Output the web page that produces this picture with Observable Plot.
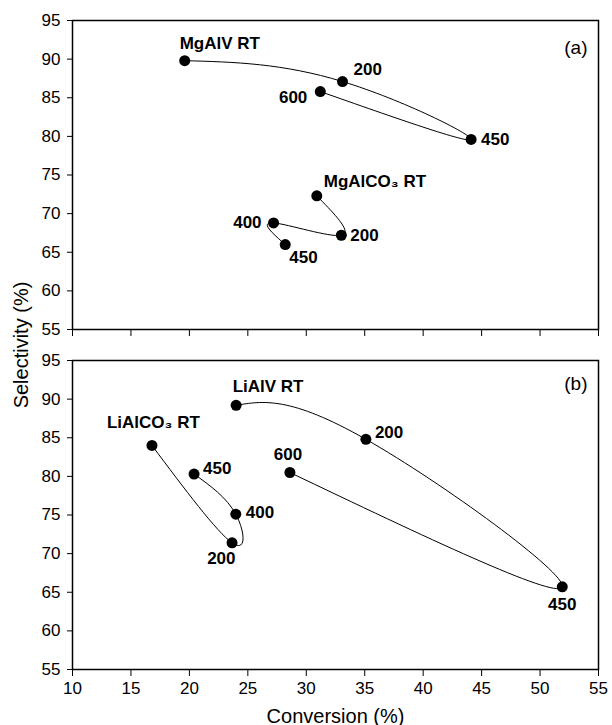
<!DOCTYPE html>
<html>
<head>
<meta charset="utf-8">
<script src="https://cdn.jsdelivr.net/npm/d3@7"></script>
<script src="https://cdn.jsdelivr.net/npm/@observablehq/plot@0.6"></script>
<style>
  html, body { margin: 0; padding: 0; background: white; }
  #wrap { position: relative; width: 612px; height: 725px; font-family: "Liberation Sans", Arial, sans-serif; }
  #wrap svg { position: absolute; left: 0; }
  #ylab { position: absolute; left: 21px; top: 345px; transform: translate(-50%, -50%) rotate(-90deg); font-size: 20px; white-space: nowrap; color: black; }
  g[aria-label="x-axis label"] text { font-size: 20px; }
</style>
</head>
<body>
<div id="wrap"><div id="ylab">Selectivity (%)</div></div>
<script>
// ---- data ----
const xTicks = [10, 15, 20, 25, 30, 35, 40, 45, 50, 55];
const yTicks = [55, 60, 65, 70, 75, 80, 85, 90, 95];

// panel (a)
const mgalvX = [19.6, 33.1, 44.1, 31.2];
const mgalvY = [89.8, 87.1, 79.6, 85.8];
const mgalvLabels = ["MgAlV RT", "200", "450", "600"];

const mgalco3X = [30.9, 33.0, 27.2, 28.2];
const mgalco3Y = [72.3, 67.2, 68.8, 66.0];
const mgalco3Labels = ["MgAlCO₃ RT", "200", "400", "450"];

// panel (b)
const lialvX = [24.0, 35.1, 51.9, 28.6];
const lialvY = [89.2, 84.8, 65.7, 80.5];
const lialvLabels = ["LiAlV RT", "200", "450", "600"];

const lialco3X = [16.8, 23.65, 23.97, 20.4];
const lialco3Y = [84.0, 71.4, 75.1, 80.3];
const lialco3Labels = ["LiAlCO₃ RT", "200", "400", "450"];

const panelTags = ["(a)", "(b)"];

// ---- label placement (pixel offsets, anchor) ----
const offsets = {
  mgalv:   [[-5, -17, "start"], [11, -12, "start"], [10, 0, "start"], [-13, 6, "end"]],
  mgalco3: [[7, -14, "start"], [9, 0, "start"], [-12, 0, "end"], [4, 13.5, "start"]],
  lialv:   [[-3.5, -19, "start"], [9, -6.5, "start"], [0, 17.5, "middle"], [-2, -18, "middle"]],
  lialco3: [[-45, -23, "start"], [-10.7, 16, "middle"], [10, -2, "start"], [9, -6, "start"]]
};

function series(xs, ys, labels) {
  return xs.map((x, i) => ({x, y: ys[i], label: labels[i]}));
}

function seriesMarks(data, offs) {
  const marks = [
    Plot.line(data, {x: "x", y: "y", curve: "natural", stroke: "black", strokeWidth: 1}),
    Plot.dot(data, {x: "x", y: "y", r: 5.5, fill: "black", stroke: "none"})
  ];
  data.forEach((d, i) => {
    const [dx, dy, anchor] = offs[i];
    marks.push(Plot.text([d], {x: "x", y: "y", text: "label", dx, dy, textAnchor: anchor,
      fontSize: 17, fontWeight: "bold", fill: "black"}));
  });
  return marks;
}

const common = {
  width: 612,
  marginLeft: 72,
  marginRight: 14,
  style: {fontFamily: "'Liberation Sans', Arial, sans-serif", fontSize: "17px", background: "transparent", color: "black"},
  x: {domain: [10, 55]},
  y: {domain: [55, 95]}
};

const plotA = Plot.plot({
  ...common,
  height: 345,
  marginTop: 20,
  marginBottom: 16,
  marks: [
    Plot.axisY({ticks: yTicks, tickSize: 5, tickPadding: 7, label: null}),
    Plot.axisX({ticks: xTicks, tickSize: 7, tickFormat: () => "", label: null}),
    ...seriesMarks(series(mgalvX, mgalvY, mgalvLabels), offsets.mgalv),
    ...seriesMarks(series(mgalco3X, mgalco3Y, mgalco3Labels), offsets.mgalco3),
    Plot.text([panelTags[0]], {frameAnchor: "top-right", dx: -11, dy: 27, textAnchor: "end", lineAnchor: "middle", fontSize: 19, fill: "black"}),
    Plot.frame({stroke: "black", strokeWidth: 1.5})
  ]
});

const plotB = Plot.plot({
  ...common,
  height: 380,
  marginTop: 15,
  marginBottom: 56,
  marks: [
    Plot.axisY({ticks: yTicks, tickSize: 5, tickPadding: 7, label: null}),
    Plot.axisX({ticks: xTicks, tickSize: 7, tickPadding: 5, label: "Conversion (%)", labelAnchor: "center", labelArrow: "none", labelOffset: 53}),
    ...seriesMarks(series(lialvX, lialvY, lialvLabels), offsets.lialv),
    ...seriesMarks(series(lialco3X, lialco3Y, lialco3Labels), offsets.lialco3),
    Plot.text([panelTags[1]], {frameAnchor: "top-right", dx: -11, dy: 23, textAnchor: "end", lineAnchor: "middle", fontSize: 19, fill: "black"}),
    Plot.frame({stroke: "black", strokeWidth: 1.5})
  ]
});

const wrap = document.getElementById("wrap");
plotA.style.top = "0px";
plotB.style.top = "345px";
wrap.appendChild(plotA);
wrap.appendChild(plotB);
</script>
</body>
</html>
